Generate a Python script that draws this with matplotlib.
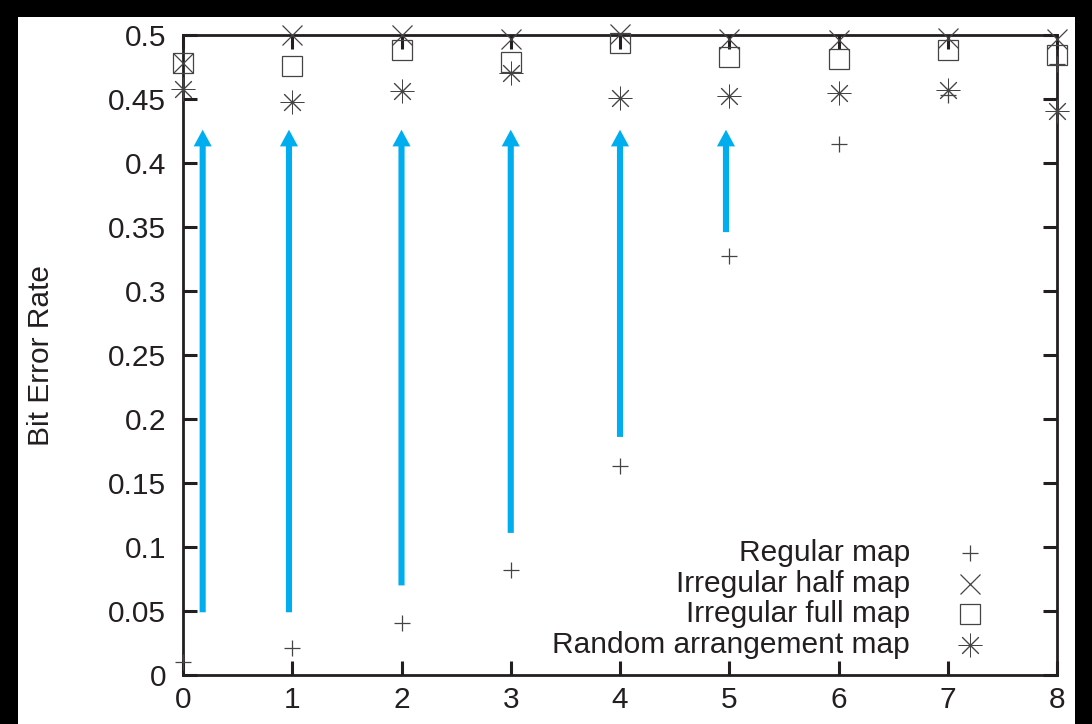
import matplotlib
matplotlib.use("Agg")
import matplotlib.pyplot as plt
from matplotlib.patches import Rectangle, ArrowStyle

plt.rcParams["font.family"] = ["Liberation Sans", "DejaVu Sans"]

# data
x = [0, 1, 2, 3, 4, 5, 6, 7, 8]
regular = [0.010, 0.021, 0.041, 0.082, 0.163, 0.327, 0.415, 0.453, 0.477]
irr_half = [0.478, 0.500, 0.500, 0.497, 0.501, 0.497, 0.496, 0.498, 0.497]
irr_full = [0.478, 0.476, 0.488, 0.479, 0.494, 0.483, 0.481, 0.488, 0.484]
random_map = [0.458, 0.448, 0.456, 0.470, 0.451, 0.452, 0.455, 0.457, 0.441]

arrow_x = [0.18, 0.97, 2.0, 3.0, 4.0, 4.97]
arrow_lo = [0.049, 0.049, 0.070, 0.111, 0.186, 0.346]
arrow_hi = 0.426

labels = ["Regular map", "Irregular half map", "Irregular full map",
          "Random arrangement map"]

INK = "#231f20"
MK = "#444444"
BLUE = "#00aeef"
FS = 21.5

fig = plt.figure(figsize=(10.92, 7.24), dpi=100, facecolor="black")
# white page area (the reference is a crop with black borders)
page = Rectangle((18 / 1092, 0), (1075 - 18) / 1092, 1 - 17 / 724,
                 transform=fig.transFigure, facecolor="white",
                 edgecolor="none", zorder=-10)
fig.add_artist(page)

ax = fig.add_axes([183 / 1092, 1 - 675 / 724, (1057 - 183) / 1092, (675 - 35) / 724])
ax.set_facecolor("none")

styles = [
    dict(marker="+", ms=12, mew=0.9),
    dict(marker="x", ms=15, mew=0.9),
    dict(marker="s", ms=14, mew=0.9, mfc="none"),
    dict(marker=(8, 2, 0), ms=17, mew=0.7),
]
series = [regular, irr_half, irr_full, random_map]
for ys, st in zip(series, styles):
    ax.plot(x, ys, ls="none", color=MK, mec=MK, clip_on=False, zorder=3, **st)

arrow = ArrowStyle.Simple(head_length=0.6, head_width=0.65, tail_width=0.22)
for xa, lo in zip(arrow_x, arrow_lo):
    ax.annotate("", xy=(xa, arrow_hi), xytext=(xa, lo),
                arrowprops=dict(arrowstyle=arrow, mutation_scale=20, color=BLUE,
                                lw=0, shrinkA=0, shrinkB=0), zorder=2)

ax.set_xlim(0, 8)
ax.set_ylim(0, 0.5)
ax.set_xticks(range(0, 9))
yt = [i * 0.05 for i in range(11)]
ax.set_yticks(yt)
ax.set_yticklabels(["0", "0.05", "0.1", "0.15", "0.2", "0.25", "0.3", "0.35",
                    "0.4", "0.45", "0.5"])
ax.tick_params(direction="in", length=10, width=2.2, colors=INK, labelsize=FS,
               top=True, right=True)
ax.tick_params(axis="y", pad=12)
ax.tick_params(axis="x", pad=8)
for s in ax.spines.values():
    s.set_linewidth(2.0)
    s.set_color(INK)

ax.set_ylabel("Bit Error Rate", fontsize=FS, color=INK)
ax.yaxis.set_label_coords((55 - 183) / 874, 0.5)

# gnuplot-style key: right-justified text, marker to its right
key_rows = [553, 584, 614, 645]
for lab, st, yp in zip(labels, styles, key_rows):
    ya = (675 - yp) / 640
    ax.text((910 - 183) / 874, ya, lab, transform=ax.transAxes, ha="right",
            va="center", fontsize=FS, color=INK)
    ax.plot([(970 - 183) / 874], [ya], transform=ax.transAxes, ls="none",
            color=MK, mec=MK, clip_on=False, **st)

fig.savefig("out.png", dpi=100, facecolor=fig.get_facecolor())
